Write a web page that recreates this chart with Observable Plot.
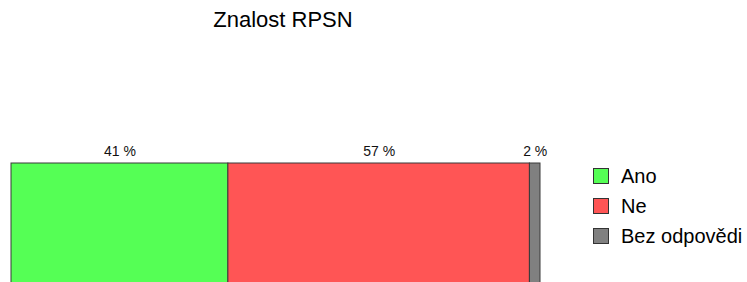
<!DOCTYPE html>
<html>
<head>
<meta charset="utf-8">
<script src="https://cdn.jsdelivr.net/npm/d3@7"></script>
<script src="https://cdn.jsdelivr.net/npm/@observablehq/plot@0.6"></script>
<style>
  html, body { margin: 0; padding: 0; background: #fff; overflow: hidden; }
  #wrap { position: relative; width: 747px; height: 282px; overflow: hidden; font-family: "Liberation Sans", Arial, sans-serif; }
  #title { position: absolute; left: 0; width: 566px; top: 9px; text-align: center; font-size: 22px; line-height: 22px; color: #000; white-space: nowrap; }
  #legend { position: absolute; left: 593px; top: 166px; }
  .row { display: flex; align-items: center; height: 20px; margin-bottom: 10px; font-size: 20px; line-height: 20px; color: #000; white-space: nowrap; }
  .sw { width: 14px; height: 14px; border: 1px solid #333; margin-right: 12px; box-sizing: content-box; }
</style>
</head>
<body>
<div id="wrap">
  <div id="chart"></div>
  <div id="title"></div>
  <div id="legend"></div>
</div>
<script>
const titleText = "Znalost RPSN";
const categories = ["Ano", "Ne", "Bez odpovědi"];
const values = [41, 57, 2];
const colors = ["#55ff55", "#ff5555", "#808080"];

const data = categories.map((c, i) => ({answer: c, value: values[i]}));

const chart = Plot.plot({
  width: 747,
  height: 282,
  marginLeft: 11,
  marginRight: 207,
  marginTop: 163,
  marginBottom: 0,
  style: {fontFamily: "Liberation Sans, Arial, sans-serif", background: "white"},
  x: {domain: [0, 100], axis: null},
  color: {domain: categories, range: colors},
  marks: [
    Plot.barX(data, Plot.stackX({x: "value", fill: "answer", stroke: "#3a3a3a", strokeWidth: 1, insetBottom: -10})),
    Plot.text(data, Plot.stackX({x: "value", text: d => d.value + " %", frameAnchor: "top", lineAnchor: "bottom", dy: -8, fontSize: 14, fill: "#111"}))
  ]
});
document.getElementById("chart").appendChild(chart);

document.getElementById("title").textContent = titleText;
const legend = document.getElementById("legend");
categories.forEach((c, i) => {
  const row = document.createElement("div");
  row.className = "row";
  const sw = document.createElement("div");
  sw.className = "sw";
  sw.style.background = colors[i];
  const lab = document.createElement("span");
  lab.textContent = c;
  row.appendChild(sw);
  row.appendChild(lab);
  legend.appendChild(row);
});
</script>
</body>
</html>
